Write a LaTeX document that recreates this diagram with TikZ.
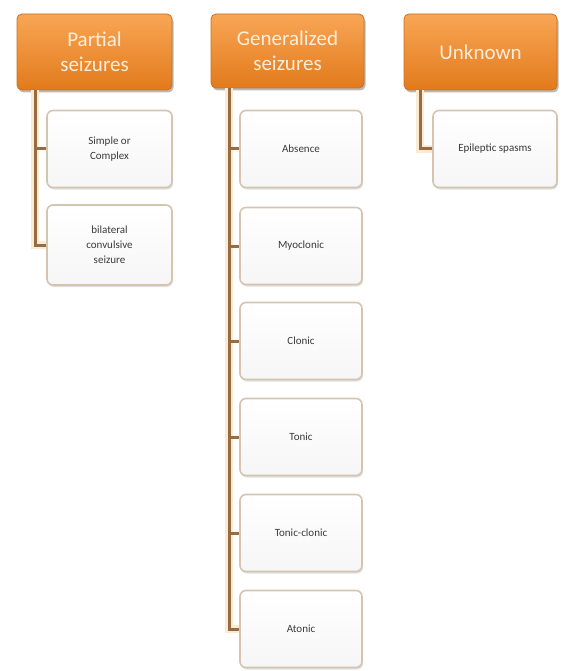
\documentclass[tikz,border=0pt]{standalone}
\usepackage{fontspec}
\setmainfont{Carlito}
\usetikzlibrary{shadows}
\definecolor{hdtop}{HTML}{F8A655}
\definecolor{hdbot}{HTML}{E27A1C}
\definecolor{hdborder}{HTML}{C9701E}
\definecolor{hdtext}{HTML}{FDEEDC}
\definecolor{chborder}{HTML}{D4C4B0}
\definecolor{chfill}{HTML}{F6F6F6}
\definecolor{linkc}{HTML}{956C44}
\definecolor{halo}{HTML}{FBEBD3}
\definecolor{chtext}{HTML}{3A3A3A}
\tikzset{
  header/.style={rounded corners=5pt, draw=hdborder, line width=0.8pt,
    top color=hdtop, bottom color=hdbot, text=hdtext,
    minimum width=155pt, minimum height=76pt, align=center,
    font=\fontsize{21}{25}\selectfont,
    drop shadow={shadow xshift=1.5pt, shadow yshift=-2.5pt, opacity=0.45, fill=black!60}},
  child/.style={rounded corners=6pt, draw=chborder, line width=1.6pt,
    top color=white, bottom color=chfill, text=chtext,
    minimum width=124pt, minimum height=77pt, align=center,
    font=\fontsize{11}{15}\selectfont,
    drop shadow={shadow xshift=1pt, shadow yshift=-2pt, opacity=0.3, fill=black!40}},
  link/.style={draw=linkc, line width=3pt},
  linkhalo/.style={draw=halo, line width=8pt}
}
\begin{document}
\begin{tikzpicture}[x=1pt,y=-1pt]
\useasboundingbox (0,0) rectangle (563,671);
% connector anchors
\coordinate (pa) at (35,0);
\coordinate (ga) at (229,0);
\coordinate (ua) at (420,0);
% headers
\node[header] (p) at (94.5,52) {Partial\\seizures};
\node[header, minimum width=153pt, minimum height=74pt] (g) at (287.5,51) {Generalized\\seizures};
\node[header, minimum width=153pt] (u) at (480.5,52) {Unknown};
% halo behind connectors
\draw[linkhalo] (pa |- p.south) |- ([xshift=-1pt]109.5,245);
\draw[linkhalo] (ga |- g.south) |- ([xshift=-1pt]301,629);
\draw[linkhalo] (ua |- u.south) |- ([xshift=-1pt]495,149);
% partial children
\node[child, minimum width=125pt] (p1) at (109.5,149) {Simple or\\Complex};
\node[child, minimum width=125pt, minimum height=80pt] (p2) at (109.5,245) {bilateral\\convulsive\\seizure};
% generalized children
\node[child, minimum width=122pt] (g1) at (301,149) {Absence};
\node[child, minimum width=122pt] (g2) at (301,246) {Myoclonic};
\node[child, minimum width=122pt] (g3) at (301,341) {Clonic};
\node[child, minimum width=122pt] (g4) at (301,437) {Tonic};
\node[child, minimum width=122pt] (g5) at (301,533) {Tonic-clonic};
\node[child, minimum width=122pt] (g6) at (301,629) {Atonic};
% unknown child
\node[child, minimum width=124pt] (u1) at (495,149) {Epileptic spasms};
% connectors
\draw[link] (pa |- p.south) |- (p1.west);
\draw[link] (pa |- p.south) |- (p2.west);
\foreach \k in {1,...,6}{
  \draw[link] (ga |- g.south) |- (g\k.west);
}
\draw[link] (ua |- u.south) |- (u1.west);
\end{tikzpicture}
\end{document}
